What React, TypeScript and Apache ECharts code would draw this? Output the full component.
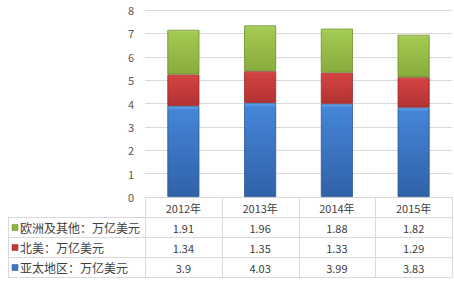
import React, { useEffect, useRef } from "react";
import * as echarts from "echarts";

const categories = ["2012年", "2013年", "2014年", "2015年"];
const seriesNames = ["欧洲及其他：万亿美元", "北美：万亿美元", "亚太地区：万亿美元"];
const asiaPacific = [3.9, 4.03, 3.99, 3.83];
const northAmerica = [1.34, 1.35, 1.33, 1.29];
const europeOther = [1.91, 1.96, 1.88, 1.82];
const yTicks = { min: 0, max: 8, interval: 1 };

const GRID_LEFT = 145;
const GRID_RIGHT = 2;
const GRID_TOP = 10;
const GRID_BOTTOM = 84;
const ROW_H = 20;
const TABLE_LEFT = 8;
const LINE = "#d9d9d9";

function fillGrad(hi: string, top: string, bottom: string) {
  return new echarts.graphic.LinearGradient(0, 0, 0, 1, [
    { offset: 0, color: hi },
    { offset: 0.04, color: top },
    { offset: 1, color: bottom },
  ]);
}

export default function App() {
  const ref = useRef<HTMLDivElement>(null);
  useEffect(() => {
    if (!ref.current) return;
    const chart = echarts.init(ref.current, null, { renderer: "svg" });
    const colors = [
      { h: "#6aa8ee", t: "#4585d8", b: "#3061a8", e: "#2a5592", k: "#3b78c8" },
      { h: "#e86a6a", t: "#d54343", b: "#b23232", e: "#952828", k: "#c83535" },
      { h: "#c2e27a", t: "#a3ca52", b: "#88ac3c", e: "#6c8a2e", k: "#8fb43f" },
    ];
    const data = [asiaPacific, northAmerica, europeOther];
    const names = [seriesNames[2], seriesNames[1], seriesNames[0]];
    chart.setOption({
      animation: false,
      grid: { left: GRID_LEFT, right: GRID_RIGHT, top: GRID_TOP, bottom: GRID_BOTTOM, containLabel: false },
      xAxis: {
        type: "category",
        data: categories,
        axisLine: { show: true, lineStyle: { color: LINE } },
        axisTick: { show: false },
        axisLabel: { color: "#404040", fontSize: 11, margin: 5, fontFamily: "Noto Sans CJK SC" },
      },
      yAxis: {
        type: "value",
        min: yTicks.min,
        max: yTicks.max,
        interval: yTicks.interval,
        axisLine: { show: false },
        axisTick: { show: false },
        splitLine: { lineStyle: { color: LINE } },
        axisLabel: { color: "#595959", fontSize: 11, margin: 11, fontFamily: "Noto Sans CJK SC" },
      },
      series: data.map((d, i) => ({
        type: "bar",
        name: names[i],
        stack: "total",
        data: d,
        barWidth: 32,
        itemStyle: {
          color: fillGrad(colors[i].h, colors[i].t, colors[i].b),
          borderColor: colors[i].e,
          borderWidth: 0.8,
        },
      })),
    });

    const yAxis0 = GRID_TOP + (281 - GRID_TOP - GRID_BOTTOM);
    const right = 454 - GRID_RIGHT;
    const xs = categories.map((_, i) => chart.convertToPixel({ xAxisIndex: 0 }, i) as number);
    const colW = xs.length > 1 ? xs[1] - xs[0] : 77;
    const els: any[] = [];
    const rowsTop = yAxis0 + ROW_H;
    const tableBottom = rowsTop + ROW_H * 3;
    for (let i = 0; i <= categories.length; i++) {
      const x = Math.round(GRID_LEFT + i * colW) + 0.5;
      els.push({ type: "line", shape: { x1: x, y1: yAxis0, x2: x, y2: tableBottom }, style: { stroke: LINE, lineWidth: 1 } });
    }
    els.push({ type: "line", shape: { x1: TABLE_LEFT + 0.5, y1: rowsTop, x2: TABLE_LEFT + 0.5, y2: tableBottom }, style: { stroke: LINE, lineWidth: 1 } });
    for (let r = 0; r <= 3; r++) {
      const y = Math.round(rowsTop + r * ROW_H) + 0.5;
      els.push({ type: "line", shape: { x1: TABLE_LEFT, y1: y, x2: right, y2: y }, style: { stroke: LINE, lineWidth: 1 } });
    }
    const rows = [
      { name: seriesNames[0], vals: europeOther, k: colors[2] },
      { name: seriesNames[1], vals: northAmerica, k: colors[1] },
      { name: seriesNames[2], vals: asiaPacific, k: colors[0] },
    ];
    rows.forEach((row, r) => {
      const cy = rowsTop + r * ROW_H + ROW_H / 2 + 0.5;
      els.push({ type: "rect", shape: { x: 12, y: cy - 3, width: 6, height: 6 }, style: { fill: row.k.k, stroke: row.k.e, lineWidth: 0.5 } });
      els.push({
        type: "text", x: 20, y: cy,
        style: { text: row.name, fill: "#404040", fontSize: 12, fontFamily: "Noto Sans CJK SC", verticalAlign: "middle", align: "left" },
      });
      row.vals.forEach((v, i) => {
        els.push({
          type: "text", x: xs[i], y: cy,
          style: { text: String(v), fill: "#404040", fontSize: 11, fontFamily: "Noto Sans CJK SC", verticalAlign: "middle", align: "center" },
        });
      });
    });
    chart.setOption({ graphic: els });
    return () => chart.dispose();
  }, []);
  return <div ref={ref} style={{ width: 454, height: 281, position: "absolute", left: 0, top: 0 }} />;
}
